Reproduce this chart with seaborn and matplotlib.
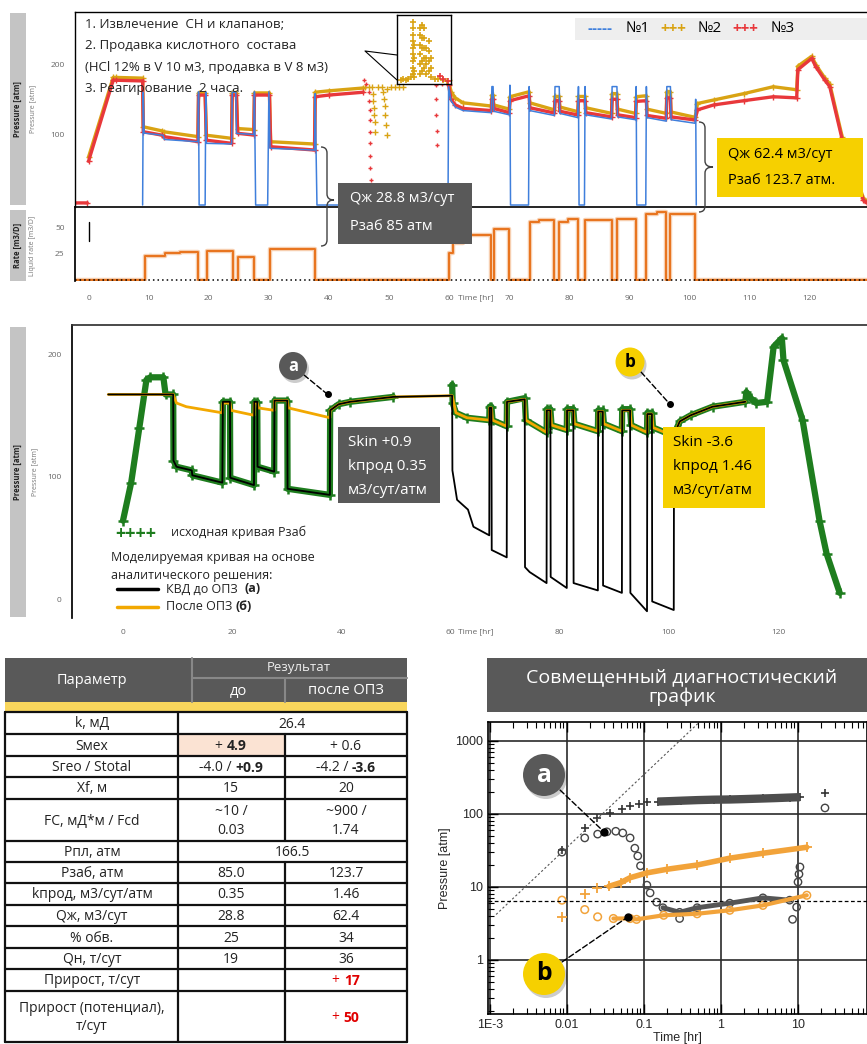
import numpy as np
import matplotlib
matplotlib.use("Agg")
import matplotlib.pyplot as plt
import seaborn as sns
from matplotlib import font_manager
from matplotlib.patches import Rectangle, Circle, PathPatch, ConnectionPatch
from matplotlib.path import Path
from matplotlib.ticker import MultipleLocator, FixedLocator, NullFormatter, LogLocator

sns.set_theme(style="white")


def font_names(bold=False):
    out = set()
    for f in font_manager.fontManager.ttflist:
        w = f.weight if isinstance(f.weight, int) else font_manager.weight_dict.get(f.weight, 400)
        if (w >= 600) == bold:
            out.add(f.name)
    return out


regular_fonts = font_names(False)
bold_fonts = font_names(True)
MAIN = next((n for n in ["Open Sans", "Noto Sans"] if n in regular_fonts), "DejaVu Sans")
BOLD = next((n for n in [MAIN, "Open Sans", "Noto Sans", "Roboto", "Inter", "Lato"] if n in bold_fonts),
            "DejaVu Sans")
plt.rcParams['font.family'] = [MAIN, 'DejaVu Sans']
BOLD_FAM = [BOLD, 'DejaVu Sans']

nan = np.nan

# ---------------- top panel: gauges No1 (blue), No2 (gold), No3 (red) ----------------
red_t = [-2.4, -0.2, nan, 0.0, 4.1, 4.6, 9.0, 9.1, 12.3, 12.5, 18.2, 18.3, 19.4, 19.6, 23.8, 23.9, 24.6, 24.8,
         27.5, 27.6, 30.1, 30.3, 37.6, 37.7, 40.0, 45.7, nan,
         59.9, 60.3, 61.0, 62.3, 67.0, 67.1, 67.3, 67.4, 70.0, 70.1, 73.3, 73.4, 77.5, 77.6, 78.3, 78.4,
         81.4, 81.5, 82.6, 82.7, 87.0, 87.1, 87.9, 88.0, 91.0, 91.1, 92.8, 92.9, 96.1, 96.2, 96.8, 96.9,
         100.9, 101.3, 104.0, 109.0, 113.9, 117.8, 118.0, 120.3, 121.0, 122.5, 123.3, 125.4, 128.9, 129.5]
red_p = [3, 3, nan, 62, 177, 177, 176, 104, 99, 97, 90, 156, 156, 92, 87.5, 156, 156, 101.7,
         99.3, 156, 156, 82.7, 78, 153.6, 156, 160, nan,
         170, 150, 142, 137, 134, 150, 150, 137, 131, 148, 155, 138, 130.5, 148, 148, 133,
         127.7, 148, 148, 131, 125, 150, 150, 128, 124, 147, 148, 127, 123, 152, 152, 125,
         120.6, 135, 142, 148, 153.6, 152, 192, 208, 196, 177, 168, 92, 7, 3]

yel_t = [0.0, 4.1, 4.6, 9.0, 9.1, 12.3, 12.5, 18.2, 18.3, 19.4, 19.6, 23.8, 23.9, 24.6, 24.8,
         27.5, 27.6, 30.1, 30.3, 37.6, 37.7, 40.0, 45.7, nan,
         59.9, 60.3, 61.0, 62.3, 67.0, 67.1, 67.3, 67.4, 70.0, 70.1, 73.3, 73.4, 77.5, 77.6, 78.3, 78.4,
         81.4, 81.5, 82.6, 82.7, 87.0, 87.1, 87.9, 88.0, 91.0, 91.1, 92.8, 92.9, 96.1, 96.2, 96.8, 96.9,
         100.9, 101.3, 104.0, 109.0, 113.9, 117.8, 118.0, 120.3, 121.0, 122.5, 123.3, 125.4, 128.9, 129.5]
yel_p = [68, 181, 181, 180, 111, 105, 104, 97, 159, 159, 99, 94.6, 159, 159, 108.5,
         107, 159, 159, 89.8, 86.5, 160, 162, 166, nan,
         178, 161, 152, 145, 140.4, 156, 156, 142, 136, 153.6, 160.7, 145, 135, 154, 154, 139,
         132.4, 154, 154, 138, 130, 158, 158, 136, 130, 153.6, 155, 136, 130, 160.7, 160.7, 132,
         124.4, 144, 149, 158, 167.8, 163.5, 197, 211, 199, 180, 172, 96, 10, 5]

blue_t = [9.0, 9.1, 9.25, 12.4, 12.6, 18.2, 18.3, 18.4, 19.4, 19.5, 19.6, 23.8, 23.9, 24.5, 24.6,
          27.5, 27.6, 27.8, 29.8, 30.0, 30.2, 37.6, 37.7, 38.0, 59.8, 59.9, 60.3, 61.0, 62.3,
          67.0, 67.1, 67.3, 67.4, 70.0, 70.1, 70.2, 73.2, 73.3, 73.4, 77.5, 77.6, 78.3, 78.4,
          81.4, 81.5, 81.6, 82.5, 82.6, 82.7, 87.0, 87.1, 87.9, 88.0, 91.0, 91.1, 91.2, 92.7, 92.8, 92.9,
          96.1, 96.2, 96.8, 96.9, 100.9, 101.0, 101.1]
blue_p = [0, 160, 102, 99, 93, 89.8, 160.7, 0, 0, 160.7, 87.5, 86.6, 160, 160, 101.7,
          100, 160.7, 0, 0, 160.7, 80.4, 78, 158, 0, 0, 168, 148, 139, 134,
          131, 168, 168, 133, 128, 170, 0, 0, 168, 134, 127, 168, 168, 130,
          124, 168, 0, 0, 168, 128, 122, 168, 168, 125, 121, 168, 0, 0, 168, 124,
          119, 168, 168, 121, 116, 150, 0]

# acid treatment period (scattered readings)
yel_acid_t = [46.0, 46.6, 47.2, 47.4, 47.4, 47.5, 47.5, 47.6, 47.7, 48.2, 48.8, 49.0, 49.2, 49.3, 49.4,
              49.5, 49.6, 49.7, 50.3, 51.0, 51.7, 52.3]
yel_acid_p = [167, 167, 167, 158, 148, 138, 128, 118, 104, 167, 167, 160, 150, 140, 128,
              114, 100, 165, 167, 168, 168, 168]
red_acid_t = [45.9, 46.1, 46.7, 46.7, 46.8, 46.8, 46.8, 46.9, 46.9, 46.9, 47.0, 47.0,
              57.6, 57.8, 57.8, 57.8, 57.9, 57.9, 58.3, 58.8]
red_acid_p = [177, 171, 160, 148, 135, 120, 104, 88, 70, 52, 35, 18,
              178, 170, 150, 128, 105, 85, 176, 171]
inset_t = [51.6, 52.0, 52.4, 52.8, 53.2,
           53.5, 53.5, 53.5, 53.5, 53.5, 53.5, 53.5, 53.5, 53.5,
           53.7, 53.7, 53.7, 53.7,
           54.6, 54.6, 54.6, 54.6, 54.6, 54.6,
           54.9, 54.9, 54.9, 54.9, 54.9,
           55.2, 55.2, 55.2, 55.2, 55.2,
           55.6, 55.6, 55.6, 55.6,
           56.0, 56.0, 56.0, 56.0,
           56.4, 56.4, 56.4,
           57.0, 57.5, 58.2, 58.8]
inset_p = [166, 167, 166, 168, 170,
           175, 185, 195, 205, 215, 225, 235, 245, 255,
           170, 180, 200, 220,
           175, 190, 205, 220, 235, 245,
           180, 195, 215, 230, 250,
           185, 200, 215, 230, 245,
           175, 190, 200, 215,
           180, 195, 210, 225,
           170, 185, 200,
           168, 167, 166, 165]
inset_red_t = [57.8, 58.3, 59.0]
inset_red_p = [172, 168, 164]

# liquid rate schedule (step, post)
rate_t = [-2.3, 9.4, 12.7, 15.2, 18.2, 19.7, 24.1, 24.9, 27.6, 30.2, 37.7,
          60.0, 60.6, 62.3, 67.0, 67.4, 70.0, 73.4, 74.9, 77.5, 78.3, 79.8, 81.4, 82.6, 87.0, 87.9,
          91.0, 92.8, 94.5, 96.1, 96.8, 100.9, 129.5]
rate_q = [0, 23.5, 26, 27, 0, 27.5, 0, 22.4, 0, 29.8, 0,
          25.6, 35.9, 43.3, 0, 48.7, 0, 55.8, 57.7, 0, 55.5, 58.6, 0, 57.7, 0, 58.6,
          0, 63.5, 65.4, 0, 63.7, 0, 0]
rate_mark_t = [0.0, 0.0]
rate_mark_q = [37.5, 56]

# ---------------- middle panel: measured Pwf and models ----------------
grn_t = [0.0, 1.5, 3.0, 4.3, 5.0, 7.4, 7.8, 9.2, 9.25, 9.8, 12.6, 12.7, 18.2, 18.3, 19.6, 19.65,
         24.0, 24.05, 24.6, 24.65, 27.7, 27.75, 30.1, 30.15, 37.9, 37.95, 39.5, 41.6, 49.5, nan,
         60.3, 60.4, 61.0, 63.0, 67.1, 67.15, 67.5, 67.7, 70.3, 70.35, 73.6, 73.8, 77.6, 77.65, 78.3, 78.5,
         81.3, 81.35, 82.5, 82.7, 87.0, 87.05, 87.9, 88.1, 91.4, 91.45, 92.9, 93.1, 96.0, 96.05, 96.9, 97.1,
         100.9, 101.5, 102.0, 104.0, 108.0, 114.0, 114.2, 115.0, 116.0, 118.0, 119.2, 120.7, 121.0,
         124.5, 127.6, 128.9, 131.3]
grn_p = [64, 95, 140, 179, 181, 181, 167, 167, 113, 108, 105, 101, 95, 161, 161, 99,
         93, 161, 161, 108, 104, 162, 162, 90, 85, 154, 159, 161, 165, nan,
         175, 160, 152, 148, 146, 157, 157, 146, 141, 161, 164, 146, 136, 155, 155, 142,
         138, 155, 155, 143, 137, 154, 154, 143, 137, 155, 155, 142, 136, 152, 152, 140,
         133, 140, 145, 150, 157, 161, 169, 164, 160, 161, 206, 213, 195,
         146, 64, 37, 5]

blk_t = [-2.7, 9.2, 9.25, 9.8, 12.6, 12.7, 18.2, 18.3, 19.6, 19.65, 24.0, 24.05, 24.6, 24.65,
         27.7, 27.75, 30.1, 30.15, 37.9, 37.95, 39.5, 41.6, 49.5, 60.3, 60.35, 61.2, 63.2, 64.2,
         67.1, 67.15, 67.5, 67.55, 70.3, 70.35, 73.6, 73.65, 74.5, 77.6, 77.65, 78.3, 78.35,
         81.3, 81.35, 82.5, 82.55, 87.0, 87.05, 87.9, 87.95, 91.4, 91.45, 92.9, 92.95,
         96.0, 96.05, 96.9, 96.95, 100.9, 100.95, 102.0, 104.0, 108.0, 114.0]
blk_p = [167, 167, 113, 108, 105, 101, 95, 161, 161, 99, 93, 161, 161, 108,
         104, 162, 162, 90, 85, 154, 159, 161, 165, 166, 105, 81, 73, 59,
         52, 156, 156, 40, 34, 161, 163, 26, 22, 13, 154, 154, 18,
         9, 154, 154, 13, 7, 153, 153, 11, 5, 154, 154, 5,
         -10, 151, 151, -2, -9, 134, 145, 150, 157, 161]

org_t = [-2.7, 9.2, 9.8, 11.6, 18.2, 18.3, 19.6, 19.8, 24.0, 24.05, 24.6, 24.8, 27.7, 27.75, 30.1, 30.3,
         37.9, 37.95, 39.5, 41.6, 49.5, 60.3, 61.0, 63.0, 67.1, 67.15, 67.5, 67.7, 70.3, 70.35, 73.6, 73.8,
         77.6, 77.65, 78.3, 78.5, 81.3, 81.35, 82.5, 82.7, 87.0, 87.05, 87.9, 88.1, 91.4, 91.45, 92.9, 93.1,
         96.0, 96.05, 96.9, 97.1, 100.9, 100.95, 102.0, 104.0, 108.0, 114.0]
org_p = [167, 167, 160, 157, 152, 160, 160, 154, 150, 160, 160, 156, 154, 162, 162, 156,
         148, 154, 159, 161, 165, 166, 152, 148, 146, 156, 156, 146, 141, 161, 163, 146,
         136, 154, 154, 142, 138, 154, 154, 143, 137, 153, 153, 143, 137, 154, 154, 142,
         136, 151, 151, 140, 133, 134, 145, 150, 157, 161]

mark_a = (37.5, 167)
mark_b = (100.2, 159)

# ---------------- diagnostic log-log plot ----------------
dpb_t = [0.0086, 0.017, 0.0245, 0.036, 0.052, 0.066, 0.085, 0.109, 0.15, 0.218, 0.3, 0.5, 0.8, 1.3, 2.0, 3.5, 5.0, 7.8, 10.6]
dpb_p = [32, 64, 88, 103, 117, 129, 138, 146, 148, 150, 152, 155, 157, 158, 160, 163, 165, 168, 170]
derb_t = [0.0086, 0.017, 0.025, 0.033, 0.043, 0.053, 0.066, 0.076, 0.083, 0.09, 0.109, 0.12, 0.146,
          0.176, 0.29, 0.49, 1.3, 3.5, 7.8]
derb_p = [30, 47, 53, 57, 58, 55, 47, 34, 26.6, 19.5, 10.6, 8.3, 6.2, 5.2, 4.5, 5.2, 6.0, 7.1, 6.6]
derb_out_t = [0.29, 8.5, 9.6, 10.0, 10.3, 10.6, 22.4]
derb_out_p = [3.7, 3.6, 5.3, 11.7, 15, 18.8, 121]
dpb_late_t = [22.4]
dpb_late_p = [194]
dpa_t = [0.0086, 0.017, 0.0245, 0.035, 0.05, 0.066, 0.109, 0.2, 0.49, 1.3, 3.5, 13]
dpa_p = [3.9, 8, 9.6, 10.2, 11.5, 13.4, 15.6, 17.5, 20, 24.8, 29, 35]
dera_t = [0.0086, 0.017, 0.025, 0.04, 0.066, 0.08, 0.18, 0.49, 1.3, 3.5, 13]
dera_p = [6.6, 4.9, 3.9, 3.7, 3.7, 3.6, 4.1, 4.3, 4.8, 5.6, 7.7]
slope_t = [1.2e-3, 0.52]
slope_p = [4.2, 1800]
radial_p = 6.5
diag_a = (0.0302, 57)
diag_b = (0.062, 3.9)

# ---------------- results table ----------------
params = ["k, мД", "Sмех", "Sгео / Stotal", "Xf, м", "FC, мД*м / Fcd", "Рпл, атм", "Рзаб, атм",
          "kпрод, м3/сут/атм", "Qж, м3/сут", "% обв.", "Qн, т/сут", "Прирост, т/сут",
          "Прирост (потенциал),\nт/сут"]
before = ["26.4", "+ |4.9", "-4.0 / |+0.9", "15", "~10 /\n0.03", "166.5", "85.0", "0.35", "28.8",
          "25", "19", "", ""]
after = ["", "+ 0.6", "-4.2 / |-3.6", "20", "~900 /\n1.74", "", "123.7", "1.46", "62.4",
         "34", "36", "+ |17", "+ |50"]
merged_rows = [0, 5]
red_rows = [11, 12]

# ---------------- colours ----------------
C_BLUE = "#3f7fdc"
C_YEL = "#d9a313"
C_RED = "#e8383b"
C_RATE = "#e8731c"
C_GREEN = "#1e7d1e"
C_ORNG = "#f2a800"
C_DARK = "#595959"
C_GOLD = "#f6d000"

W, H = 867, 1044
fig = plt.figure(figsize=(W / 100, H / 100), dpi=100)
fig.patch.set_facecolor("white")


def px_axes(x0, y0, x1, y1):
    return fig.add_axes([x0 / W, 1 - y1 / H, (x1 - x0) / W, (y1 - y0) / H])


def small_ticks(ax):
    ax.tick_params(axis="both", which="both", labelsize=6, labelcolor="#666666", color="#444444",
                   direction="out", width=0.8)
    ax.tick_params(which="major", length=4)
    ax.tick_params(which="minor", length=2)


# ---- top pressure panel ----
ax_p = px_axes(75, 12, 867, 207)
ax_p.set_facecolor("none")
ax_p.plot(yel_t, yel_p, color=C_YEL, lw=2.4, marker="+", ms=4, mew=1)
ax_p.plot(red_t, red_p, color=C_RED, lw=2.4, marker="+", ms=4, mew=1)
ax_p.plot(blue_t, blue_p, color=C_BLUE, lw=1.1)
sns.scatterplot(x=yel_acid_t, y=yel_acid_p, marker="+", color=C_YEL, s=16, linewidth=1, ax=ax_p)
sns.scatterplot(x=red_acid_t, y=red_acid_p, marker="+", color=C_RED, s=10, linewidth=1, ax=ax_p)
ax_p.set_xlim(-2.25, 129.5)
ax_p.set_ylim(-2.8, 273.8)
ax_p.set_xticks([])
ax_p.yaxis.set_major_locator(FixedLocator([100, 200]))
ax_p.yaxis.set_minor_locator(MultipleLocator(20))
small_ticks(ax_p)
for s in ["right", "bottom"]:
    ax_p.spines[s].set_visible(False)
for s in ["top", "left"]:
    ax_p.spines[s].set_color("black")
    ax_p.spines[s].set_linewidth(1)

# inset of acid injection readings
ax_in = px_axes(397, 15, 451, 84)
sns.scatterplot(x=inset_t, y=inset_p, marker="+", color=C_YEL, s=14, linewidth=1.2, ax=ax_in)
sns.scatterplot(x=inset_red_t, y=inset_red_p, marker="+", color=C_RED, s=14, linewidth=1.2, ax=ax_in)
ax_in.set_xlim(51, 59.5)
ax_in.set_ylim(160, 265)
ax_in.set_xticks([])
ax_in.set_yticks([])
for s in ax_in.spines.values():
    s.set_color("black")
    s.set_linewidth(1)

# ---- rate panel ----
ax_r = px_axes(75, 207, 867, 281)
ax_r.set_facecolor("none")
ax_r.step(rate_t, rate_q, where="post", color=C_RATE, lw=3.2, alpha=0.35)
sns.lineplot(x=rate_t, y=rate_q, drawstyle="steps-post", estimator=None, sort=False,
             color=C_RATE, lw=1.4, ax=ax_r)
ax_r.plot(rate_mark_t, rate_mark_q, color="black", lw=1)
ax_r.axhline(0, color="black", ls=(0, (1, 2)), lw=1.1)
ax_r.set_xlim(-2.25, 129.5)
ax_r.set_ylim(-1, 70.2)
ax_r.set_yticks([25, 50])
ax_r.yaxis.set_minor_locator(MultipleLocator(5))
ax_r.xaxis.set_major_locator(MultipleLocator(10))
ax_r.xaxis.set_minor_locator(MultipleLocator(2))
ax_r.xaxis.set_major_formatter(plt.FuncFormatter(lambda v, p: f"{v:.0f}"))
small_ticks(ax_r)
ax_r.tick_params(axis="x", pad=6)
ax_r.spines["bottom"].set_visible(False)
ax_r.spines["right"].set_visible(False)
ax_r.spines["top"].set_color("black")
ax_r.spines["top"].set_linewidth(1.2)
ax_r.spines["left"].set_color("black")
ax_r.set_xlabel("")
ax_r.set_ylabel("")

# ---- middle model-match panel ----
ax_m = px_axes(72, 325, 867, 618)
ax_m.set_facecolor("none")
ax_m.plot(grn_t, grn_p, color=C_GREEN, lw=4.5, marker="+", ms=7, mew=1.8)
sns.lineplot(x=org_t, y=org_p, estimator=None, sort=False, color=C_ORNG, lw=2, ax=ax_m)
sns.lineplot(x=blk_t, y=blk_p, estimator=None, sort=False, color="black", lw=1.3, ax=ax_m)
ax_m.plot(*mark_a, "o", color="black", ms=4)
ax_m.plot(*mark_b, "o", color="black", ms=4)
ax_m.set_xlim(-9.34, 136.3)
ax_m.set_ylim(-15.5, 223.7)
ax_m.yaxis.set_major_locator(FixedLocator([0, 100, 200]))
ax_m.yaxis.set_minor_locator(MultipleLocator(20))
ax_m.xaxis.set_major_locator(MultipleLocator(20))
ax_m.xaxis.set_minor_locator(MultipleLocator(2))
ax_m.xaxis.set_major_formatter(plt.FuncFormatter(lambda v, p: f"{v:.0f}"))
small_ticks(ax_m)
ax_m.tick_params(axis="x", pad=4)
ax_m.spines["bottom"].set_visible(False)
ax_m.spines["right"].set_visible(False)
ax_m.spines["top"].set_color("#333333")
ax_m.spines["left"].set_color("black")
ax_m.set_xlabel("")
ax_m.set_ylabel("")

# ---- diagnostic log-log plot ----
ax_d = px_axes(488, 722, 867, 1014)
ax_d.set_xscale("log")
ax_d.set_yscale("log")
ax_d.set_xlim(9.42e-4, 78.7)
ax_d.set_ylim(0.182, 1820)
ax_d.grid(True, which="major", color="#2b2b2b", lw=1.2)
ax_d.plot(slope_t, slope_p, color="#555555", ls=(0, (2, 2)), lw=0.8)
ax_d.axhline(radial_p, color="black", ls=(0, (3, 2)), lw=0.9)
band = [i for i, t in enumerate(dpb_t) if t >= 0.15]
ax_d.plot([dpb_t[i] for i in band], [dpb_p[i] for i in band], color="#4d4d4d", lw=6, solid_capstyle="butt")
sns.scatterplot(x=dpb_t, y=dpb_p, marker="+", color="#333333", s=40, linewidth=1.2, ax=ax_d)
sns.scatterplot(x=dpb_late_t, y=dpb_late_p, marker="+", color="#333333", s=40, linewidth=1.2, ax=ax_d)
bandd = [i for i, t in enumerate(derb_t) if t >= 0.15]
ax_d.plot([derb_t[i] for i in bandd], [derb_p[i] for i in bandd], color="#555555", lw=3.5)
sns.scatterplot(x=derb_t, y=derb_p, marker="o", facecolor="none", edgecolor="#444444", s=28,
                linewidth=1, ax=ax_d)
sns.scatterplot(x=derb_out_t, y=derb_out_p, marker="o", facecolor="none", edgecolor="#444444", s=28,
                linewidth=1, ax=ax_d)
ax_d.plot(dpa_t[3:], dpa_p[3:], color="#f2a33a", lw=4)
sns.scatterplot(x=dpa_t, y=dpa_p, marker="+", color="#f2a33a", s=45, linewidth=1.3, ax=ax_d)
ax_d.plot(dera_t[3:], dera_p[3:], color="#f2a33a", lw=3)
sns.scatterplot(x=dera_t, y=dera_p, marker="o", facecolor="none", edgecolor="#f2a33a", s=30,
                linewidth=1.1, ax=ax_d)
ax_d.plot(*diag_a, "o", color="black", ms=5)
ax_d.plot(*diag_b, "o", color="black", ms=5)
ax_d.set_xticks([1e-3, 1e-2, 0.1, 1, 10])
ax_d.set_xticklabels(["1E-3", "0.01", "0.1", "1", "10"])
ax_d.set_yticks([1, 10, 100, 1000])
ax_d.set_yticklabels(["1", "10", "100", "1000"])
ax_d.xaxis.set_minor_locator(LogLocator(base=10, subs=np.arange(2, 10)))
ax_d.yaxis.set_minor_locator(LogLocator(base=10, subs=np.arange(2, 10)))
ax_d.xaxis.set_minor_formatter(NullFormatter())
ax_d.yaxis.set_minor_formatter(NullFormatter())
ax_d.tick_params(which="both", direction="in", top=True, bottom=True, left=True, right=False,
                 color="black", labelsize=9)
ax_d.tick_params(which="major", length=7, width=1)
ax_d.tick_params(which="minor", length=4, width=0.8)
for lab in ax_d.get_xticklabels() + ax_d.get_yticklabels():
    lab.set_family(["Liberation Sans", "DejaVu Sans"])
ax_d.set_ylabel("Pressure [atm]", fontsize=9, family=["Liberation Sans", "DejaVu Sans"], labelpad=3)
ax_d.set_xlabel("Time [hr]", fontsize=9, family=["Liberation Sans", "DejaVu Sans"], labelpad=1)
for s in ax_d.spines.values():
    s.set_color("black")
    s.set_linewidth(1.2)

# ---------------- overlay in pixel coordinates ----------------
ov = fig.add_axes([0, 0, 1, 1])
ov.set_xlim(0, W)
ov.set_ylim(H, 0)
ov.axis("off")
ov.set_zorder(10)
renderer = fig.canvas.get_renderer()

# side label bars
for (y0, y1, bold, thin, xthin) in [(13, 205, "Pressure [atm]", "Pressure [atm]", 33),
                                    (210, 281, "Rate [m3/D]", "Liquid rate [m3/D]", 33),
                                    (327, 617, "Pressure [atm]", "Pressure [atm]", 35)]:
    ov.add_patch(Rectangle((10, y0), 16, y1 - y0, fc="#c4c4c4", ec="none"))
    ov.text(18, (y0 + y1) / 2, bold, rotation=90, ha="center", va="center", fontsize=5.5,
            fontweight="bold", family=BOLD_FAM, color="#222222")
    ov.text(xthin, (y0 + y1) / 2, thin, rotation=90, ha="center", va="center", fontsize=5,
            color="#777777")

ov.text(458, 298, "Time [hr]", fontsize=6, color="#666666", va="center")
ov.text(458, 632, "Time [hr]", fontsize=6, color="#666666", va="center")

# operations text
ops = ["1. Извлечение  СН и клапанов;", "2. Продавка кислотного  состава",
       "(HCl 12% в V 10 м3, продавка в V 8 м3)", "3. Реагирование  2 часа."]
for i, line in enumerate(ops):
    ov.text(85, 24 + 21.5 * i, line, fontsize=9.5, va="center", color="#222222")

# callout to inset
ov.plot([397, 365, 397], [55, 51, 80], color="black", lw=0.8)

# top legend
ov.add_patch(Rectangle((575, 18), 300, 22, fc="#eeeeee", ec="none"))
for x, s, c in [(588, "-----", C_BLUE), (626, "№1", "black"), (660, "+++", C_YEL), (698, "№2", "black"),
                (732, "+++", C_RED), (771, "№3", "black")]:
    if c == "black":
        ov.text(x, 29, s, fontsize=11, color=c, va="center")
    else:
        ov.text(x, 29, s, fontsize=11, color=c, va="center", fontweight="bold", family=BOLD_FAM)


def brace(x, y0, y1, ym, tip, color="#404040"):
    verts = [(x - 6, y0), (x, y0), (x, y0 + 6), (x, ym - 6), (x, ym), (tip, ym), (x, ym), (x, ym + 6),
             (x, y1 - 6), (x, y1), (x - 6, y1)]
    codes = [Path.MOVETO, Path.CURVE3, Path.CURVE3, Path.LINETO, Path.CURVE3, Path.CURVE3,
             Path.CURVE3, Path.CURVE3, Path.LINETO, Path.CURVE3, Path.CURVE3]
    ov.add_patch(PathPatch(Path(verts, codes), fc="none", ec=color, lw=1))


brace(327, 147, 246, 200, 334)
brace(705, 122, 212, 167, 713)

# info boxes
ov.add_patch(Rectangle((338, 183), 134, 61, fc=C_DARK, ec="none"))
ov.text(350, 198, "Qж 28.8 м3/сут", fontsize=10.5, color="white", va="center")
ov.text(350, 227, "Рзаб 85 атм", fontsize=10.5, color="white", va="center")
ov.add_patch(Rectangle((717, 138), 146, 59, fc=C_GOLD, ec="none"))
ov.text(728, 155, "Qж 62.4 м3/сут", fontsize=10.5, color="black", va="center")
ov.text(728, 180, "Рзаб 123.7 атм.", fontsize=10.5, color="black", va="center")

ov.add_patch(Rectangle((338, 427), 102, 76, fc=C_DARK, ec="none"))
for i, s in enumerate(["Skin +0.9", "kпрод 0.35", "м3/сут/атм"]):
    ov.text(348, 443 + 24 * i, s, fontsize=11, color="white", va="center")
ov.add_patch(Rectangle((663, 427), 102, 81, fc=C_GOLD, ec="none"))
for i, s in enumerate(["Skin -3.6", "kпрод 1.46", "м3/сут/атм"]):
    ov.text(673, 443 + 24 * i, s, fontsize=11, color="black", va="center")


def badge(cx, cy, r, letter, fc, tc, target, target_ax, start):
    ov.add_patch(Circle((cx + 2, cy + 3), r, fc="#00000033", ec="none"))
    ov.add_patch(Circle((cx, cy), r, fc=fc, ec="none"))
    ov.text(cx, cy, letter, ha="center", va="center", fontsize=r * 0.85, fontweight="bold",
            family=BOLD_FAM, color=tc)
    con = ConnectionPatch(xyA=start, coordsA=ov.transData, xyB=target, coordsB=target_ax.transData,
                          color="black", lw=1, ls=(0, (4, 2)))
    fig.add_artist(con)


badge(293, 366, 14, "a", C_DARK, "white", mark_a, ax_m, (304, 375))
badge(630, 362, 14.5, "b", C_GOLD, "black", mark_b, ax_m, (641, 372))
badge(544, 775, 21, "a", C_DARK, "white", diag_a, ax_d, (560, 790))
badge(544, 974, 21, "b", C_GOLD, "black", diag_b, ax_d, (562, 962))

# middle legend
ov.text(115, 534, "++++", fontsize=13, color=C_GREEN, fontweight="bold", family=BOLD_FAM, va="center")
ov.text(171, 532, "исходная кривая Рзаб", fontsize=9, va="center", color="#222222")
ov.text(111, 558, "Моделируемая кривая на основе", fontsize=9, va="center", color="#222222")
ov.text(111, 575, "аналитического решения:", fontsize=9, va="center", color="#222222")
ov.plot([117, 158], [589, 589], color="black", lw=2.5)
ov.plot([117, 158], [607, 607], color=C_ORNG, lw=2.5)


def mixed(x, y, parts, size=9, color="#222222", center=False):
    texts = []
    for s, w in parts:
        if w == "bold":
            t = ov.text(0, y, s, fontsize=size, fontweight="bold", family=BOLD_FAM, color=color,
                        ha="left", va="center")
        else:
            t = ov.text(0, y, s, fontsize=size, color=color, ha="left", va="center")
        texts.append(t)
    widths = [t.get_window_extent(renderer).width for t in texts]
    cur = x - sum(widths) / 2 if center else x
    for t, wd in zip(texts, widths):
        t.set_x(cur)
        cur += wd


mixed(166, 589, [("КВД до ОПЗ  ", "normal"), ("(a)", "bold")])
mixed(166, 607, [("После ОПЗ ", "normal"), ("(б)", "bold")])

# diagnostic title
ov.add_patch(Rectangle((487, 658), 380, 54, fc=C_DARK, ec="none"))
ov.text(682, 687, "Совмещенный диагностический\nграфик", ha="center", va="center", fontsize=14,
        color="white", linespacing=1.1)

# table
row_edges = [712, 734, 756, 777, 799, 841, 862, 883, 905, 926, 948, 969, 991, 1042]
ov.add_patch(Rectangle((5, 658), 402, 44, fc=C_DARK, ec="none"))
ov.plot([192, 407], [678, 678], color="#888888", lw=1.5)
ov.plot([192, 192], [658, 702], color="#888888", lw=1.5)
ov.plot([285, 285], [678, 702], color="#888888", lw=1.5)
ov.text(92, 680, "Параметр", ha="center", va="center", fontsize=10.5, color="white")
ov.text(299, 668, "Результат", ha="center", va="center", fontsize=9.5, color="#eeeeee")
ov.text(238, 691, "до", ha="center", va="center", fontsize=10.5, color="white")
ov.text(346, 691, "после ОПЗ", ha="center", va="center", fontsize=10.5, color="white")
ov.add_patch(Rectangle((5, 702), 402, 10, fc="#f9d65c", ec="none"))
ov.add_patch(Rectangle((179, 735), 105, 20, fc="#fbe3d3", ec="none"))
for y in row_edges:
    ov.plot([5, 407], [y, y], color="#111111", lw=1.6)
for x in [5, 178, 407]:
    ov.plot([x, x], [712, 1042], color="#111111", lw=1.6)
for i in range(len(params)):
    y0, y1 = row_edges[i], row_edges[i + 1]
    cy = (y0 + y1) / 2 + 1
    if i not in merged_rows:
        ov.plot([285, 285], [y0, y1], color="#111111", lw=1.6)
    ov.text(92, cy, params[i], ha="center", va="center", fontsize=10, color="#222222", linespacing=1.35)
    col = "#e00000" if i in red_rows else "#222222"
    if i in merged_rows:
        mixed(292, cy, [(before[i], "normal")], size=10, color=col, center=True)
        continue
    for cx, s in [(231, before[i]), (346, after[i])]:
        if not s:
            continue
        if "\n" in s:
            ov.text(cx, cy, s, ha="center", va="center", fontsize=10, color=col, linespacing=1.35)
        elif "|" in s:
            a, b = s.split("|")
            mixed(cx, cy, [(a, "normal"), (b, "bold")], size=10, color=col, center=True)
        else:
            mixed(cx, cy, [(s, "normal")], size=10, color=col, center=True)

fig.savefig("out.png", dpi=100)
